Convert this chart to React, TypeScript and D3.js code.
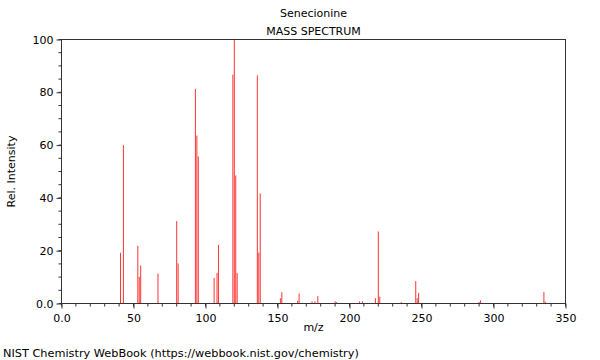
import { useEffect, useRef } from "react";
import * as d3 from "d3";

const TITLE = "Senecionine";
const SUBTITLE = "MASS SPECTRUM";
const FOOTER = "NIST Chemistry WebBook (https://webbook.nist.gov/chemistry)";

// m/z values and relative intensities
const MZ = [
  41, 43, 53, 54, 55, 67, 80, 81, 93, 94, 95, 106, 108, 109, 119, 120, 121, 122,
  136, 137, 138, 152, 153, 164, 165, 174, 176, 178, 190, 191, 207, 209, 218,
  220, 221, 236, 246, 247, 248, 290, 291, 335, 336,
];
const INTENSITY = [
  19.2, 60, 21.8, 10.1, 14.4, 11.4, 31.2, 15.2, 81.3, 63.6, 55.7, 9.7, 11.6,
  22.2, 86.7, 100, 48.5, 11.5, 86.4, 19.3, 41.7, 2, 4.3, 1, 3.8, 0.8, 0.8, 2.8,
  0.8, 0.5, 0.8, 0.8, 2, 27.3, 2.6, 0.5, 8.5, 2, 4, 0.6, 1.2, 4.3, 0.7,
];
const X_TICKS = [0, 50, 100, 150, 200, 250, 300, 350];
const Y_TICKS = [0, 20, 40, 60, 80, 100];

const FONT = "DejaVu Sans, sans-serif";

export default function App() {
  const svgRef = useRef<SVGSVGElement>(null);

  useEffect(() => {
    const svg = d3.select(svgRef.current);
    svg.selectAll("*").remove();
    const W = 600;
    const H = 360;
    const left = 61.5;
    const top = 39.5;
    const iw = 504;
    const ih = 264;

    const x = d3.scaleLinear().domain([0, 350]).range([0, iw]);
    const y = d3.scaleLinear().domain([0, 100]).range([ih, 0]);
    const fmt = (d: number) => (d === 0 ? "0.0" : String(d));

    svg.attr("width", W).attr("height", H);
    const g = svg.append("g").attr("transform", `translate(${left},${top})`);

    // peaks
    const peaks = MZ.map((m, i) => ({ m, v: INTENSITY[i] }));
    g.selectAll("line.peak")
      .data(peaks)
      .join("line")
      .attr("class", "peak")
      .attr("x1", (d) => x(d.m))
      .attr("x2", (d) => x(d.m))
      .attr("y1", ih)
      .attr("y2", (d) => y(d.v))
      .attr("stroke", "#ff0000")
      .attr("stroke-opacity", 0.8)
      .attr("stroke-width", 1);

    const axisColor = "#333";

    // minor ticks
    g.selectAll("line.xminor")
      .data(d3.range(0, 351, 10))
      .join("line")
      .attr("x1", (d) => x(d))
      .attr("x2", (d) => x(d))
      .attr("y1", ih)
      .attr("y2", ih + 3)
      .attr("stroke", axisColor);
    g.selectAll("line.yminor")
      .data(d3.range(0, 101, 5))
      .join("line")
      .attr("x1", -3)
      .attr("x2", 0)
      .attr("y1", (d) => y(d))
      .attr("y2", (d) => y(d))
      .attr("stroke", axisColor);

    const xa = g
      .append("g")
      .attr("transform", `translate(0,${ih})`)
      .call(
        d3.axisBottom(x).tickValues(X_TICKS).tickSize(5).tickPadding(6).tickFormat((d) => fmt(+d)),
      );
    const ya = g
      .append("g")
      .call(
        d3.axisLeft(y).tickValues(Y_TICKS).tickSize(5).tickPadding(3).tickFormat((d) => fmt(+d)),
      );
    for (const a of [xa, ya]) {
      a.select(".domain").remove();
      a.selectAll("line").attr("stroke", axisColor);
      a.selectAll("text")
        .attr("fill", "#000")
        .attr("font-size", 11)
        .attr("font-family", FONT);
    }

    // frame
    g.append("rect")
      .attr("width", iw)
      .attr("height", ih)
      .attr("fill", "none")
      .attr("stroke", axisColor);

    const txt = (tx: number, ty: number, s: string, anchor = "middle", size = 11) =>
      svg
        .append("text")
        .attr("x", tx)
        .attr("y", ty)
        .attr("text-anchor", anchor)
        .attr("font-family", FONT)
        .attr("font-size", size)
        .attr("fill", "#000")
        .text(s);

    const cx = left + iw / 2;
    txt(cx, 17, TITLE);
    txt(cx, 35, SUBTITLE);
    txt(cx, 331, "m/z");
    txt(3, 357, FOOTER, "start", 11.3);
    txt(0, 0, "Rel. Intensity").attr(
      "transform",
      `translate(15,${top + ih / 2}) rotate(-90)`,
    );
  }, []);

  return <svg ref={svgRef} style={{ display: "block", position: "absolute", left: 0, top: 0 }} />;
}
